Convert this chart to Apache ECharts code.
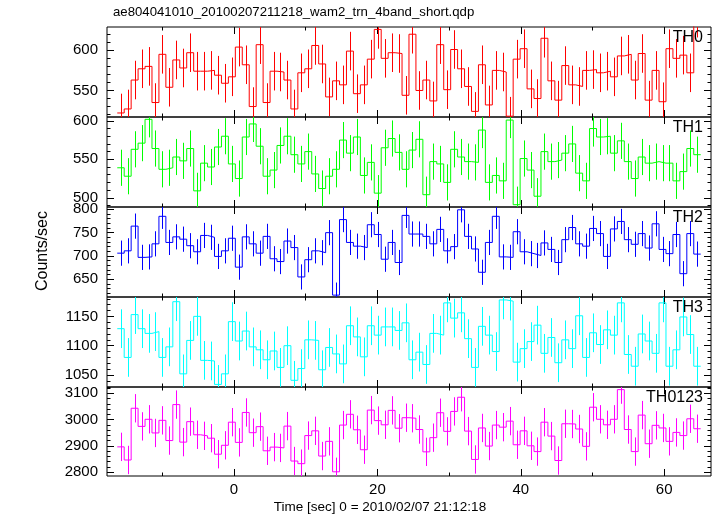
<!DOCTYPE html>
<html><head><meta charset="utf-8">
<script src="https://cdn.jsdelivr.net/npm/echarts@6/dist/echarts.min.js"></script>
<style>html,body{margin:0;padding:0;background:#fff}#c{width:717px;height:516px}</style>
</head><body><div id="c"></div>
<script>
// time bins: 31/32 s bins
const binStart = -16.28;
const binWidth = 0.96875;

const th0 = [522,527,563,577,580,535,595,554,588,578,
  597,574,574,575,569,559,567,604,582,530,
  607,535,574,573,563,527,572,577,606,583,
  542,562,557,599,546,557,589,626,590,597,
  596,544,620,550,563,537,607,551,601,577,
  555,524,582,532,575,573,518,589,602,552,
  540,615,562,538,581,557,555,575,576,572,
  574,567,593,595,563,596,538,575,536,602,
  590,594,572,640];
const th1 = [539,528,563,571,602,564,537,539,553,548,
  564,509,545,540,566,580,544,525,579,596,
  567,528,536,568,580,556,544,560,531,512,
  528,537,575,558,579,529,546,506,565,577,
  559,537,562,576,504,547,544,520,563,553,
  547,546,588,520,529,522,601,491,551,536,
  502,560,547,549,558,570,532,522,590,579,
  580,558,574,547,525,553,545,547,545,545,
  522,534,564,556];
const th2 = [706,711,764,697,698,726,785,729,741,736,
  722,709,744,740,699,711,738,676,741,726,
  706,742,694,688,732,718,655,692,711,707,
  750,616,778,729,721,718,767,746,693,729,
  686,787,747,747,742,726,757,711,720,799,
  742,715,665,729,785,698,697,752,709,705,
  701,728,714,686,735,761,726,721,759,748,
  699,758,774,735,725,748,717,769,714,705,
  746,662,748,704];
const th3 = [1129,1080,1153,1129,1121,1124,1080,1098,1175,1052,
  1109,1150,1075,1074,1034,1052,1141,1108,1125,1098,
  1093,1076,1091,1063,1100,1041,1061,1110,1109,1059,
  1097,1086,1069,1134,1115,1081,1134,1118,1132,1132,
  1126,1139,1076,1089,1068,1121,1118,1173,1147,1156,
  1112,1063,1133,1118,1090,1178,1176,1072,1095,1107,
  1135,1087,1114,1071,1110,1095,1151,1080,1122,1102,
  1127,1118,1173,1085,1065,1120,1108,1087,1173,1065,
  1093,1149,1119,1065];
const th0123 = [2896,2846,3043,2974,3001,2949,2997,2920,3057,2914,
  2992,2942,2938,2929,2868,2902,2990,2913,3027,2950,
  2973,2881,2895,2892,2975,2842,2832,2939,2957,2861,
  2917,2801,2979,3020,2961,2885,3036,2996,2980,3035,
  2967,3007,3005,2962,2877,2931,3026,2955,3031,3085,
  2956,2848,2968,2899,2979,2971,2994,2904,2957,2900,
  2878,2990,2937,2844,2984,2983,2964,2898,3047,3001,
  2980,3001,3114,2962,2878,3017,2908,2978,2968,2917,
  2951,2939,3003,2965];

// typical 1-sigma error per band (counts/sec)
const errTH0 = 24, errTH1 = 23.5, errTH2 = 27, errTH3 = 33, errTH0123 = 54;

const panelNames = ['TH0','TH1','TH2','TH3','TH0123'];
const panelData = [th0, th1, th2, th3, th0123];
const panelErr = [errTH0, errTH1, errTH2, errTH3, errTH0123];
const yMin = [517, 488, 612, 1029.6, 2785];
const yMax = [629, 605, 805, 1183, 3124];
const yMajorTicks = [[550,600],[500,550,600],[650,700,750,800],[1050,1100,1150],[2800,2900,3000,3100]];
const yMinorStep = [10,10,10,10,20];
const xMin = -17.71, xMax = 66.53;
const xMajorTicks = [0,20,40,60];
const xMinorTicks = [-10,10,30,50];
const titleText = 'ae804041010_20100207211218_wam2_trn_4band_short.qdp';
const xTitle = 'Time [sec] 0 = 2010/02/07 21:12:18';
const yTitle = 'Counts/sec';

const colors = ['#ff0000','#00ff00','#0000ff','#00ffff','#ff00ff'];
const FONT = '"Liberation Sans", Arial, Helvetica, sans-serif';
const gridTops = [27,117,207,297,387];
const gridHeights = [90,90,90,90,89];
const gridLeft = 107, gridRight = 6;

const grids = [], xAxes = [], yAxes = [], series = [], graphics = [];

function minorList(lo, hi, step, majors) {
  const out = [];
  for (let v = Math.ceil(lo / step) * step; v <= hi; v += step) {
    if (majors.indexOf(v) < 0) out.push(v);
  }
  return out;
}
const plain = v => String(Math.round(v));

for (let i = 0; i < 5; i++) {
  grids.push({left: gridLeft, right: gridRight, top: gridTops[i], height: gridHeights[i],
    show: true, borderColor: '#000', borderWidth: 1, backgroundColor: 'transparent'});
  const isLast = i === 4;
  const xBase = {type: 'value', gridIndex: i, min: xMin, max: xMax, splitLine: {show: false},
    axisLine: {show: false, onZero: false}};
  xAxes.push(Object.assign({}, xBase, {position: 'bottom',
    axisTick: {show: true, inside: true, length: 7, customValues: xMajorTicks, lineStyle: {color: '#000'}},
    axisLabel: {show: isLast, customValues: xMajorTicks, formatter: plain, fontSize: 15, color: '#000', fontFamily: FONT, margin: 6}}));
  xAxes.push(Object.assign({}, xBase, {position: 'bottom',
    axisTick: {show: true, inside: true, length: 3.5, customValues: xMinorTicks, lineStyle: {color: '#000'}},
    axisLabel: {show: false}}));
  xAxes.push(Object.assign({}, xBase, {position: 'top',
    axisTick: {show: true, inside: true, length: 7, customValues: xMajorTicks, lineStyle: {color: '#000'}},
    axisLabel: {show: false}}));
  xAxes.push(Object.assign({}, xBase, {position: 'top',
    axisTick: {show: true, inside: true, length: 3.5, customValues: xMinorTicks, lineStyle: {color: '#000'}},
    axisLabel: {show: false}}));

  const yBase = {type: 'value', gridIndex: i, min: yMin[i], max: yMax[i], splitLine: {show: false},
    axisLine: {show: false, onZero: false}};
  const minors = minorList(yMin[i], yMax[i], yMinorStep[i], yMajorTicks[i]);
  yAxes.push(Object.assign({}, yBase, {position: 'left',
    axisTick: {show: true, inside: true, length: 7, customValues: yMajorTicks[i], lineStyle: {color: '#000'}},
    axisLabel: {show: true, customValues: yMajorTicks[i], formatter: plain, fontSize: 15, color: '#000', fontFamily: FONT, margin: 9}}));
  yAxes.push(Object.assign({}, yBase, {position: 'left',
    axisTick: {show: true, inside: true, length: 3.5, customValues: minors, lineStyle: {color: '#000'}},
    axisLabel: {show: false}}));
  yAxes.push(Object.assign({}, yBase, {position: 'right',
    axisTick: {show: true, inside: true, length: 7, customValues: yMajorTicks[i], lineStyle: {color: '#000'}},
    axisLabel: {show: false}}));
  yAxes.push(Object.assign({}, yBase, {position: 'right',
    axisTick: {show: true, inside: true, length: 3.5, customValues: minors, lineStyle: {color: '#000'}},
    axisLabel: {show: false}}));

  const vals = panelData[i];
  const stepData = vals.map((v, k) => [binStart + k * binWidth, v]);
  stepData.push([binStart + vals.length * binWidth, vals[vals.length - 1]]);
  series.push({type: 'line', xAxisIndex: 4 * i, yAxisIndex: 4 * i, data: stepData, step: 'end',
    symbol: 'none', lineStyle: {color: colors[i], width: 1}, itemStyle: {color: colors[i]},
    clip: true, animation: false, z: 3});
  const err = panelErr[i];
  const color = colors[i];
  series.push({type: 'custom', xAxisIndex: 4 * i, yAxisIndex: 4 * i,
    data: vals.map((v, k) => [binStart + (k + 0.5) * binWidth, v, err]),
    encode: {x: 0, y: 1}, animation: false, z: 2,
    renderItem: function (params, api) {
      const x = api.value(0), v = api.value(1), e = api.value(2);
      const p1 = api.coord([x, v - e]);
      const p2 = api.coord([x, v + e]);
      const cs = params.coordSys;
      const top = cs.y, bot = cs.y + cs.height;
      const y1 = Math.min(Math.max(p1[1], top), bot);
      const y2 = Math.min(Math.max(p2[1], top), bot);
      const xx = Math.round(p1[0]) + 0.5;
      return {type: 'line', shape: {x1: xx, y1: y1, x2: xx, y2: y2},
        style: {stroke: color, lineWidth: 1}};
    }});

  graphics.push({type: 'text', x: 703, y: gridTops[i] + 11, z: 10,
    style: {text: panelNames[i], fill: '#000', font: '16px ' + FONT, align: 'right', verticalAlign: 'middle'}});
}

graphics.push({type: 'text', x: 113, y: 12, style: {text: titleText, fill: '#000', font: '13.2px ' + FONT, align: 'left', verticalAlign: 'middle'}});
graphics.push({type: 'text', x: 380, y: 507, style: {text: xTitle, fill: '#000', font: '13.5px ' + FONT, align: 'center', verticalAlign: 'middle'}});
graphics.push({type: 'text', x: 43, y: 251, rotation: Math.PI / 2, style: {text: yTitle, fill: '#000', font: '16px ' + FONT, align: 'center', verticalAlign: 'middle'}});

const chart = echarts.init(document.getElementById('c'), null, {renderer: 'canvas'});
chart.setOption({
  animation: false,
  backgroundColor: '#fff',
  grid: grids,
  xAxis: xAxes,
  yAxis: yAxes,
  series: series,
  graphic: graphics
});
</script>
</body></html>
